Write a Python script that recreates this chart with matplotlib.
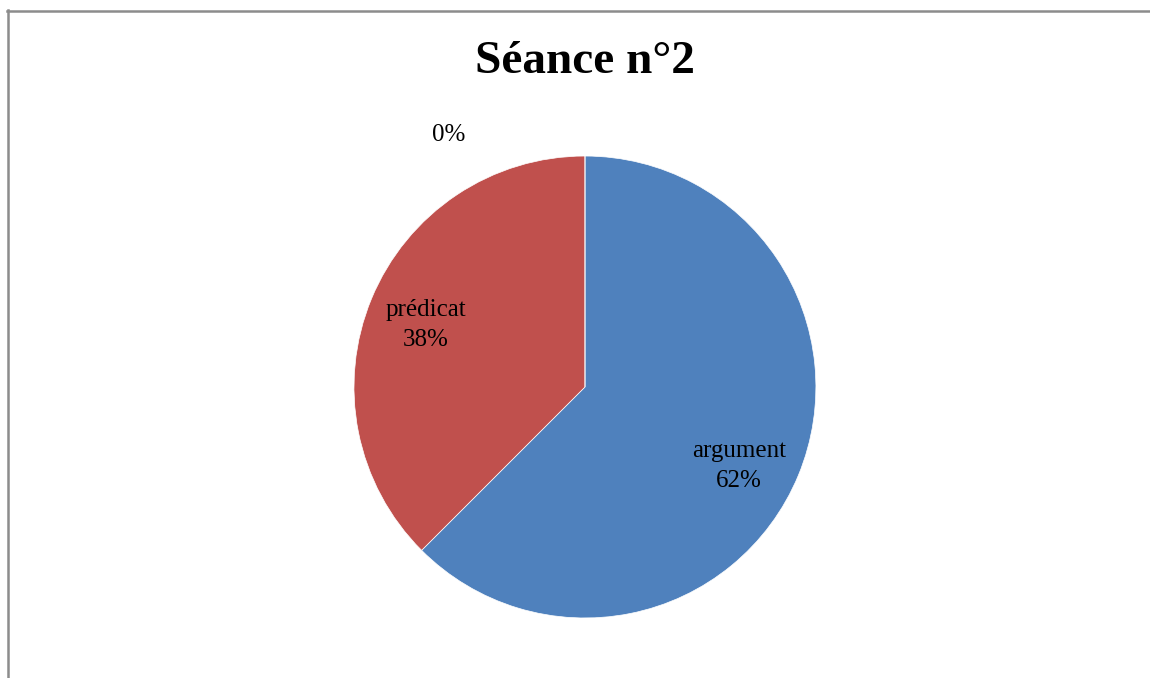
import numpy as np
import matplotlib.pyplot as plt
from matplotlib.lines import Line2D

# données
categories = ['argument', 'prédicat', '']
values = [62.5, 37.5, 0]
pct_labels = ['62%', '38%', '0%']
colors = ['#4F81BD', '#C0504D', '#9BBB59']
title = 'Séance n°2'

plt.rcParams['font.family'] = ['Liberation Serif', 'DejaVu Serif']

fig = plt.figure(figsize=(11.5, 6.78), dpi=100)
fig.patch.set_facecolor('white')

# cadre partiel (haut et gauche)
fig.add_artist(Line2D([7 / 1150, 1.0], [1 - 10.5 / 678, 1 - 10.5 / 678],
                      transform=fig.transFigure, color='#8c8c8c', lw=1.8))
fig.add_artist(Line2D([7.5 / 1150, 7.5 / 1150], [0.0, 1 - 10 / 678],
                      transform=fig.transFigure, color='#8c8c8c', lw=1.8))

ax = fig.add_axes([0.3078, 0.0885, 0.4017, 0.6814])
wedges, _ = ax.pie(values, colors=colors, startangle=90, counterclock=False,
                   wedgeprops=dict(edgecolor='white', linewidth=0.5))
ax.set_aspect('equal')
ax.set_xlim(-1, 1)
ax.set_ylim(-1, 1)
ax.axis('off')

# étiquettes : distance au centre et décalage angulaire par rapport au milieu du secteur
label_dist = [0.75, 0.74, 1.24]
label_shift = [-4.6, 1.3, 28.5]
for w, name, pct, d, s in zip(wedges, categories, pct_labels, label_dist, label_shift):
    ang = np.deg2rad((w.theta1 + w.theta2) / 2 + s)
    txt = f'{name}\n{pct}' if name else pct
    ax.text(d * np.cos(ang), d * np.sin(ang), txt, ha='center', va='center',
            fontsize=18, linespacing=1.45)

fig.text(585 / 1150, 1 - 62 / 678, title, ha='center', va='center',
         fontsize=34, fontweight='bold')

fig.savefig('out.png', dpi=100, facecolor='white')
